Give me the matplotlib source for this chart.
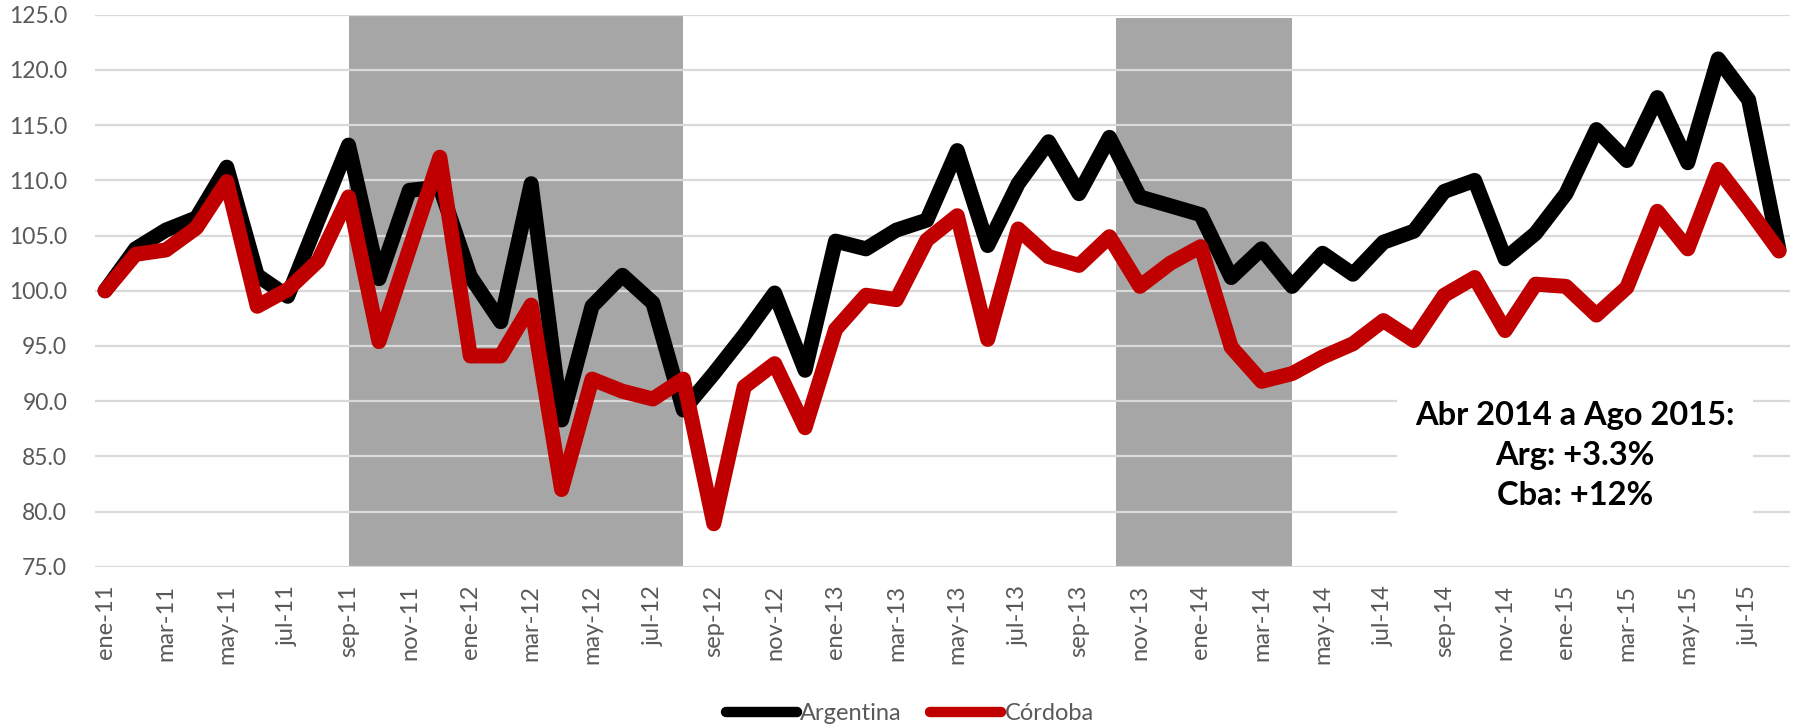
import matplotlib
matplotlib.use("Agg")
import matplotlib.pyplot as plt
from matplotlib.lines import Line2D

plt.rcParams['font.family'] = ['Lato', 'DejaVu Sans']

# Datos (indice mensual, ene-11 = 100)
meses = ['ene', 'feb', 'mar', 'abr', 'may', 'jun', 'jul', 'ago', 'sep', 'oct', 'nov', 'dic']
etiquetas = [f"{m}-{a}" for a in range(11, 16) for m in meses][:56]

argentina = [100.0, 103.8, 105.5, 106.6, 111.2, 101.4, 99.5, 106.4, 113.2, 101.1,
             109.1, 109.4, 101.3, 97.2, 109.7, 88.3, 98.6, 101.4, 98.9, 89.2,
             92.5, 96.0, 99.8, 92.8, 104.5, 103.8, 105.5, 106.4, 112.7, 104.1,
             109.7, 113.5, 108.8, 113.9, 108.5, 107.7, 106.9, 101.2, 103.8, 100.4,
             103.4, 101.5, 104.4, 105.4, 109.0, 110.0, 102.9, 105.2, 108.8, 114.6,
             111.8, 117.5, 111.6, 121.0, 117.3, 103.7]

cordoba = [100.0, 103.3, 103.7, 105.7, 109.9, 98.6, 100.1, 102.7, 108.5, 95.4,
           103.8, 112.1, 94.1, 94.1, 98.7, 82.0, 92.0, 90.9, 90.2, 92.0,
           78.9, 91.3, 93.4, 87.6, 96.5, 99.6, 99.2, 104.6, 106.8, 95.6,
           105.6, 103.1, 102.3, 104.9, 100.4, 102.5, 104.0, 94.9, 91.8, 92.5,
           94.0, 95.2, 97.3, 95.5, 99.6, 101.2, 96.4, 100.6, 100.4, 97.8,
           100.3, 107.2, 103.8, 111.0, 107.4, 103.6]

# periodos sombreados (indice inicio, indice fin, tope)
periodos = [(8, 19, 125.0), (33.23, 39, 124.7)]

nota = "Abr 2014 a Ago 2015:\nArg: +3.3%\nCba: +12%"

GRIS_TXT = '#595959'

fig = plt.figure(figsize=(17.93, 7.28), dpi=100)
ax = fig.add_axes([95 / 1793, 1 - 566.8 / 728, (1790 - 95) / 1793, (566.8 - 14.8) / 728])

x = list(range(len(argentina)))

for ini, fin, tope in periodos:
    ax.fill_between([ini, fin], 75, tope, color='#A6A6A6', lw=0, zorder=1)

ax.plot(x, argentina, color='black', lw=10.8, solid_joinstyle='round',
        solid_capstyle='round', zorder=3)
ax.plot(x, cordoba, color='#C00000', lw=10.8, solid_joinstyle='round',
        solid_capstyle='round', zorder=4)

ax.set_xlim(-0.33, 55.36)
ax.set_ylim(75, 125)
ax.set_yticks(range(75, 126, 5))
ax.set_yticklabels([f"{v:.1f}" for v in range(75, 126, 5)])
ax.set_xticks(x[::2])
ax.set_xticklabels(etiquetas[::2], rotation=90)

ax.set_axisbelow('line')
ax.grid(axis='y', color='#D9D9D9', lw=1.6)
ax.grid(axis='x', visible=False)
for s in ax.spines.values():
    s.set_visible(False)
ax.tick_params(axis='both', length=0, colors=GRIS_TXT)
ax.tick_params(axis='y', labelsize=16.5, pad=20)
ax.tick_params(axis='x', labelsize=17, pad=13)

ax.text(48.3, 85.1, nota, ha='center', va='center', fontsize=23.5,
        fontweight='bold', linespacing=1.45, zorder=5,
        bbox=dict(boxstyle='square,pad=0.55', fc='white', ec='none'))

handles = [Line2D([], [], color='black', lw=7.5, solid_capstyle='round'),
           Line2D([], [], color='#C00000', lw=7.5, solid_capstyle='round')]
leg = fig.legend(handles, ['Argentina', 'Córdoba'], loc='center',
                 bbox_to_anchor=(0.5075, 1 - 714 / 728), ncol=2, frameon=False,
                 fontsize=17, handlelength=3.0, handletextpad=0.15,
                 columnspacing=1.2)
for t in leg.get_texts():
    t.set_color(GRIS_TXT)

fig.savefig('out.png', dpi=100)
